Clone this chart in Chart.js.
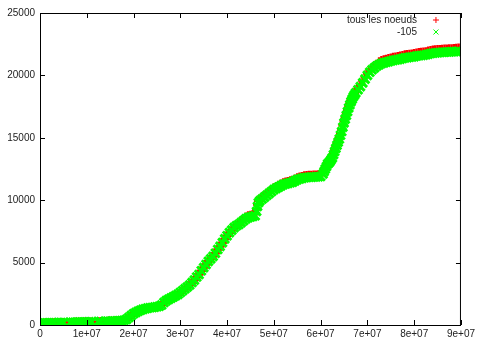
<!DOCTYPE html>
<html>
<head>
<meta charset="utf-8">
<script src="https://cdn.jsdelivr.net/npm/chart.js@4.4.1/dist/chart.umd.min.js"></script>
<style>
  html, body { margin: 0; padding: 0; background: #fff; }
  #wrap { width: 478px; height: 338px; }
</style>
</head>
<body>
<div id="wrap"><canvas id="myChart" width="478" height="338"></canvas></div>
<script>
// x positions, in millions
var xs = [
  0, 0.5, 1, 1.5, 2, 2.5, 3, 4, 4.5, 5,
  6.5, 7, 7.5, 8, 8.5, 9, 9.5, 10, 10.5, 11,
  12.5, 13, 14, 14.5, 15, 15.5, 16, 16.5, 17, 17.5,
  18, 18.5, 19, 19.5, 20, 20.5, 21, 21.5, 22, 22.5,
  23, 23.5, 24, 24.5, 25, 25.5, 26, 26.5, 27, 27.5,
  28, 28.5, 29, 29.5, 30, 30.5, 31, 31.5, 32, 32.5,
  33, 33.5, 34, 34.5, 35, 35.5, 36, 36.5, 37, 37.5,
  38, 38.5, 39, 39.5, 40, 40.5, 41, 41.5, 42, 42.5,
  43, 43.5, 44, 44.5, 45, 45.5, 46, 46.3, 46.5, 46.7, 47,
  47.5, 48, 48.5, 49, 49.5, 50, 50.5, 51, 51.5, 52,
  52.5, 53, 53.5, 54, 54.5, 55, 55.5, 56, 56.5, 57,
  57.5, 58, 58.5, 59, 59.5, 60, 60.5, 60.75, 61, 61.25, 61.5, 61.75, 62, 62.25,
  62.5, 62.75, 63, 63.25, 63.5, 63.75, 64, 64.25, 64.5, 64.75,
  65, 65.25, 65.5, 65.75, 66, 66.25, 66.5, 66.75, 67, 67.25,
  67.5, 68, 68.5, 69, 69.5, 70, 70.5, 71, 71.5, 72,
  72.5, 73, 73.5, 74, 74.5, 75, 75.5, 76, 76.5, 77,
  77.5, 78, 78.5, 79, 79.5, 80, 80.5, 81, 81.5, 82,
  82.5, 83, 83.5, 84, 84.5, 85, 85.5, 86, 86.5, 87,
  87.5, 88, 88.5, 89, 89.5
];

var tousLesNoeuds = [
  150, 150, 160, 160, 170, 170, 180, 190, 190, 200,
  210, 210, 220, 220, 230, 230, 240, 240, 250, 250,
  270, 280, 290, 300, 300, 310, 320, 330, 340, 350,
  380, 450, 600, 750, 900, 1000, 1100, 1180, 1250, 1300,
  1350, 1380, 1400, 1430, 1460, 1500, 1600, 1800, 1950, 2050,
  2150, 2250, 2350, 2450, 2600, 2750, 2900, 3050, 3200, 3400,
  3600, 3850, 4050, 4350, 4600, 4850, 5100, 5300, 5500, 5750,
  6050, 6300, 6600, 6900, 7150, 7400, 7600, 7800, 7950, 8050,
  8350, 8500, 8650, 8750, 8800, 8850, 8900, 9250, 9650, 9950, 10100,
  10250, 10400, 10550, 10700, 10850, 11000, 11100, 11200, 11300, 11400,
  11450, 11500, 11550, 11600, 11700, 11800, 11850, 11900, 11950, 11970,
  11990, 12000, 12010, 12020, 12030, 12050, 12250, 12450, 12650, 12850, 13050, 13150, 13250, 13400,
  13550, 13800, 14050, 14300, 14550, 14800, 15050, 15350, 15650, 16000,
  16350, 16650, 16950, 17250, 17550, 17800, 18050, 18250, 18450, 18600,
  18750, 19000, 19250, 19550, 19850, 20150, 20400, 20600, 20750, 20900,
  21100, 21200, 21250, 21300, 21350, 21400, 21450, 21480, 21510, 21550,
  21600, 21650, 21670, 21700, 21720, 21750, 21800, 21830, 21850, 21870,
  21900, 21950, 22000, 22030, 22050, 22070, 22080, 22100, 22110, 22120,
  22130, 22140, 22150, 22170, 22190
];

var moins105 = [
  150, 150, 160, 160, 170, 170, 180, 190, 190, 200,
  210, 210, 220, 220, 230, 230, 240, 240, 250, 250,
  270, 280, 290, 300, 300, 310, 320, 330, 340, 350,
  380, 450, 600, 750, 900, 1000, 1100, 1180, 1250, 1300,
  1350, 1380, 1400, 1430, 1460, 1500, 1600, 1800, 1950, 2050,
  2150, 2250, 2350, 2450, 2600, 2750, 2900, 3050, 3200, 3400,
  3600, 3850, 4050, 4350, 4600, 4850, 5100, 5300, 5500, 5750,
  6050, 6300, 6600, 6900, 7150, 7400, 7600, 7800, 7950, 8050,
  8200, 8350, 8500, 8600, 8650, 8700, 8750, 9100, 9500, 9800, 9950,
  10100, 10250, 10400, 10550, 10700, 10850, 10950, 11050, 11150, 11250,
  11300, 11350, 11400, 11450, 11550, 11650, 11700, 11750, 11800, 11820,
  11840, 11850, 11860, 11870, 11880, 11900, 12100, 12300, 12500, 12700, 12900, 13000, 13100, 13250,
  13400, 13650, 13900, 14150, 14400, 14650, 14900, 15200, 15500, 15850,
  16200, 16500, 16800, 17100, 17400, 17650, 17900, 18100, 18300, 18450,
  18600, 18850, 19100, 19400, 19700, 20000, 20250, 20450, 20600, 20750,
  20850, 20950, 21000, 21050, 21100, 21150, 21200, 21230, 21260, 21300,
  21350, 21400, 21420, 21450, 21470, 21500, 21550, 21580, 21600, 21620,
  21650, 21700, 21750, 21780, 21800, 21820, 21830, 21850, 21860, 21870,
  21880, 21890, 21900, 21920, 21940
];

var seriesNames = ["tous les noeuds", "-105"];
var xTicks = [0, 1e7, 2e7, 3e7, 4e7, 5e7, 6e7, 7e7, 8e7, 9e7];
var yTicks = [0, 5000, 10000, 15000, 20000, 25000];

function pts(ys) {
  return xs.map(function (x, i) { return { x: x * 1e6, y: ys[i] }; });
}

function fmtExp(v) {
  if (v === 0) return "0";
  var e = Math.floor(Math.log10(v) + 1e-9);
  var m = Math.round(v / Math.pow(10, e));
  return m + "e+" + (e < 10 ? "0" + e : e);
}

var FONT = { family: "'Liberation Sans', Arial, sans-serif", size: 10 };

// gnuplot style frame: border + inward ticks on all four sides, and key top right
var frame = {
  id: "frame",
  afterDraw: function (chart) {
    var c = chart.ctx, a = chart.chartArea;
    var xs_ = chart.scales.x, ys_ = chart.scales.y;
    c.save();
    c.strokeStyle = "#000";
    c.lineWidth = 1;
    c.strokeRect(a.left + 0.5, a.top + 0.5, a.right - a.left - 1, a.bottom - a.top);
    c.beginPath();
    xTicks.forEach(function (t) {
      var px = Math.round(xs_.getPixelForValue(t)) + 0.5;
      c.moveTo(px, a.bottom); c.lineTo(px, a.bottom - 5);
      c.moveTo(px, a.top); c.lineTo(px, a.top + 5);
    });
    yTicks.forEach(function (t) {
      var py = Math.round(ys_.getPixelForValue(t)) + 0.5;
      c.moveTo(a.left, py); c.lineTo(a.left + 5, py);
      c.moveTo(a.right, py); c.lineTo(a.right - 5, py);
    });
    c.stroke();

    // key
    c.font = "10px " + FONT.family;
    c.fillStyle = "#222";
    c.textAlign = "right";
    c.textBaseline = "middle";
    var rows = [20, 32];
    chart.data.datasets.forEach(function (ds, i) {
      c.fillText(ds.label, a.right - 44, rows[i]);
      c.strokeStyle = ds.borderColor;
      c.lineWidth = 1;
      c.beginPath();
      var cx = a.right - 25, cy = rows[i];
      if (i === 0) {
        c.moveTo(cx - 3, cy); c.lineTo(cx + 3, cy);
        c.moveTo(cx, cy - 3); c.lineTo(cx, cy + 3);
      } else {
        c.moveTo(cx - 2.5, cy - 2.5); c.lineTo(cx + 2.5, cy + 2.5);
        c.moveTo(cx - 2.5, cy + 2.5); c.lineTo(cx + 2.5, cy - 2.5);
      }
      c.stroke();
    });
    c.restore();
  }
};

var ctx = document.getElementById("myChart");

var myChart = new Chart(ctx, {
  type: "scatter",
  data: {
    datasets: [{
      label: seriesNames[0],
      data: pts(tousLesNoeuds),
      pointStyle: "cross",
      pointRadius: 4.5,
      borderColor: "#ff0000",
      backgroundColor: "#ff0000",
      pointBorderWidth: 2.5,
      order: 2
    }, {
      label: seriesNames[1],
      data: pts(moins105),
      pointStyle: "crossRot",
      pointRadius: 6,
      borderColor: "#00ff00",
      backgroundColor: "#00ff00",
      pointBorderWidth: 3,
      order: 1
    }]
  },
  options: {
    responsive: false,
    animation: false,
    events: [],
    layout: { padding: { top: 13, right: 16, left: 0, bottom: 0 } },
    plugins: {
      legend: { display: false },
      tooltip: { enabled: false }
    },
    scales: {
      x: {
        type: "linear",
        min: 0,
        max: 9e7,
        afterBuildTicks: function (s) { s.ticks = xTicks.map(function (v) { return { value: v }; }); },
        afterFit: function (s) { s.height = 13; },
        grid: { display: false, drawTicks: false },
        border: { display: false },
        ticks: {
          font: FONT,
          color: "#222",
          padding: 3,
          maxRotation: 0,
          autoSkip: false,
          callback: function (v) { return fmtExp(v); }
        }
      },
      y: {
        min: 0,
        max: 25000,
        afterBuildTicks: function (s) { s.ticks = yTicks.map(function (v) { return { value: v }; }); },
        afterFit: function (s) { s.width = 40; },
        grid: { display: false, drawTicks: false },
        border: { display: false },
        ticks: {
          font: FONT,
          color: "#222",
          padding: 5,
          callback: function (v) { return String(v); }
        }
      }
    }
  },
  plugins: [frame]
});
</script>
</body>
</html>
